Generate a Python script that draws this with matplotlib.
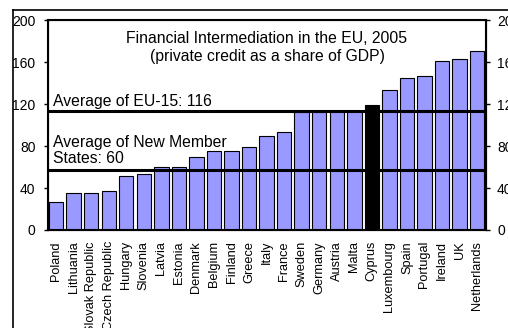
import matplotlib
matplotlib.use("Agg")
import matplotlib.pyplot as plt
from matplotlib.lines import Line2D
import numpy as np

plt.rcParams['font.family'] = ['Liberation Sans', 'DejaVu Sans']

countries = ["Poland", "Lithuania", "Slovak Republic", "Czech Republic", "Hungary",
             "Slovenia", "Latvia", "Estonia", "Denmark", "Belgium", "Finland", "Greece",
             "Italy", "France", "Sweden", "Germany", "Austria", "Malta", "Cyprus",
             "Luxembourg", "Spain", "Portugal", "Ireland", "UK", "Netherlands"]
credit = [27, 35, 35, 37, 51, 53, 60, 60, 70, 75, 75, 79,
          90, 93, 112, 112, 113, 113, 119, 133, 145, 147, 161, 163, 171]
highlight = "Cyprus"
eu15_avg = 113
nms_avg = 57
yticks = [0, 40, 80, 120, 160, 200]

fig = plt.figure(figsize=(5.08, 3.28), dpi=100)
ax = fig.add_axes([0.0945, 0.2988, 0.862, 0.640])

x = np.arange(len(countries))
colors = ["black" if c == highlight else "#9999ff" for c in countries]
ax.bar(x, credit, width=0.82, color=colors, edgecolor="black", linewidth=0.8, zorder=2)

ax.axhline(eu15_avg, color="black", lw=2.2, zorder=3)
ax.axhline(nms_avg, color="black", lw=2.2, zorder=3)

ax.set_xlim(-0.46, len(countries) - 0.5)
ax.set_ylim(0, 200)
ax.set_yticks(yticks)
ax.set_xticks(x)
ax.set_xticklabels(countries, rotation=90, fontsize=9.2)
ax.tick_params(axis="x", length=0, pad=8)
ax.tick_params(axis="y", labelsize=10, length=3, width=1, pad=6)
for s in ax.spines.values():
    s.set_linewidth(1.5)

ax2 = ax.twinx()
ax2.set_ylim(0, 200)
ax2.set_yticks(yticks)
ax2.tick_params(axis="y", labelsize=10, length=3, width=1, pad=5)

ax.text(0.5, 0.867, "Financial Intermediation in the EU, 2005\n(private credit as a share of GDP)",
        transform=ax.transAxes, ha="center", va="center", fontsize=11.3, linespacing=1.25)
ax.text(0.012, eu15_avg + 2, "Average of EU-15: 116", ha="left", va="bottom", fontsize=11.3,
        transform=ax.get_yaxis_transform())
ax.text(0.012, nms_avg + 4, "Average of New Member\nStates: 60", ha="left", va="bottom",
        fontsize=11.3, linespacing=1.1, transform=ax.get_yaxis_transform())

# outer frame
fx = 13 / 508
fy = 1 - 10 / 328
fig.add_artist(Line2D([fx, fx], [0, fy], transform=fig.transFigure, color="black", lw=1.2))
fig.add_artist(Line2D([fx, 1], [fy, fy], transform=fig.transFigure, color="black", lw=1.2))

fig.savefig("out.png", dpi=100)
